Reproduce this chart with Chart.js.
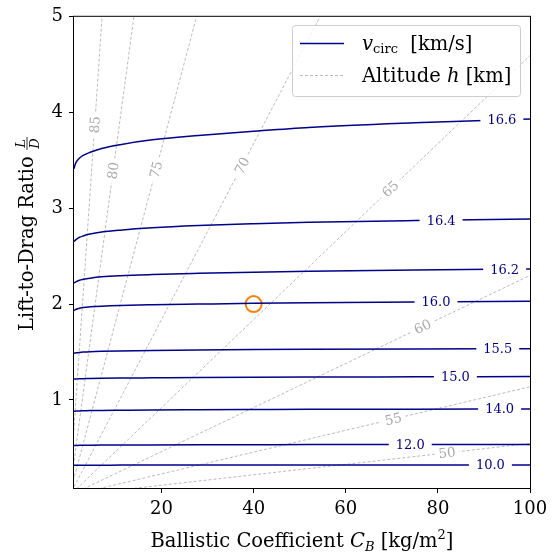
<!DOCTYPE html>
<html>
<head>
<meta charset="utf-8">
<script src="https://cdn.jsdelivr.net/npm/chart.js@4.4.0/dist/chart.umd.min.js"></script>
<style>
  body { margin: 0; background: #fff; }
  #chart { display: block; }
</style>
</head>
<body>
<canvas id="chart" width="559" height="556"></canvas>
<script>
// ballistic coefficient grid shared by every v_circ contour [kg/m^2]
var cbGrid = [1, 1.2, 1.5, 2.2, 3, 4.5, 7, 11, 18, 28, 40, 52, 75, 100];

// v_circ contour levels [km/s] and the L/D read along each one
var vLevels = ['16.6', '16.4', '16.2', '16.0', '15.5', '15.0', '14.0', '12.0', '10.0'];
var ld166 = [3.414, 3.45, 3.485, 3.525, 3.553, 3.585, 3.625, 3.665, 3.715, 3.76, 3.805, 3.845, 3.893, 3.933];
var ld164 = [2.653, 2.663, 2.676, 2.698, 2.712, 2.731, 2.752, 2.772, 2.797, 2.82, 2.839, 2.854, 2.873, 2.889];
var ld162 = [2.22, 2.227, 2.235, 2.25, 2.259, 2.271, 2.285, 2.297, 2.309, 2.321, 2.333, 2.343, 2.356, 2.366];
var ld160 = [1.933, 1.939, 1.946, 1.957, 1.965, 1.972, 1.979, 1.986, 1.993, 2.0, 2.008, 2.014, 2.023, 2.03];
var ld155 = [1.487, 1.489, 1.492, 1.496, 1.499, 1.503, 1.507, 1.511, 1.516, 1.521, 1.525, 1.528, 1.532, 1.535];
var ld150 = [1.217, 1.218, 1.219, 1.221, 1.222, 1.224, 1.226, 1.228, 1.230, 1.233, 1.236, 1.238, 1.241, 1.244];
var ld140 = [0.881, 0.882, 0.883, 0.885, 0.886, 0.888, 0.89, 0.892, 0.895, 0.897, 0.899, 0.901, 0.903, 0.905];
var ld120 = [0.524, 0.524, 0.525, 0.526, 0.526, 0.527, 0.528, 0.529, 0.53, 0.531, 0.532, 0.533, 0.534, 0.535];
var ld100 = [0.317, 0.317, 0.317, 0.317, 0.318, 0.318, 0.318, 0.319, 0.319, 0.319, 0.32, 0.32, 0.32, 0.32];
var vCurves = [ld166, ld164, ld162, ld160, ld155, ld150, ld140, ld120, ld100];

// altitude lines [km]: they fan out of the origin, end = where they leave the plot
var altLevels = ['50', '55', '60', '65', '70', '75', '80', '85'];
var altEndCB = [100, 100, 100, 100, 54.4, 27.6, 14.0, 7.1];
var altEndLD = [0.545, 1.137, 2.30, 4.595, 5, 5, 5, 5];

// design point
var designCB = [40];
var designLD = [2.0];

var xTicks = [20, 40, 60, 80, 100];
var yTicks = [1, 2, 3, 4, 5];

// where the inline labels sit along their lines (CB value)
var vLabelCB = [93.9, 80.7, 94.5, 79.6, 93, 83.8, 93.4, 74, 91.4];
var altLabelCB = [82, 70.3, 76.7, 69.7, 37.5, 18.8, 9.5, 5.5];

var NAVY = '#00008b';
var GREY = '#a9a9a9';
var SERIF = '"DejaVu Serif", serif';

function interp(xs, ys, x) {
    for (var i = 1; i < xs.length; i++) {
        if (x <= xs[i]) {
            var t = (x - xs[i - 1]) / (xs[i] - xs[i - 1]);
            return ys[i - 1] + t * (ys[i] - ys[i - 1]);
        }
    }
    return ys[ys.length - 1];
}

// text runs with mixed fonts (italic / sub / superscript), left to right
function drawRuns(ctx, runs, x, y, align) {
    var total = 0;
    runs.forEach(function(r) { ctx.font = r.font; r.w = ctx.measureText(r.text).width; total += r.w; });
    var cx = align === 'center' ? x - total / 2 : x;
    ctx.textAlign = 'left';
    ctx.textBaseline = 'alphabetic';
    runs.forEach(function(r) {
        ctx.font = r.font;
        ctx.fillText(r.text, cx, y + (r.dy || 0));
        cx += r.w;
    });
    return total;
}

var datasets = [];
vCurves.forEach(function(ld, i) {
    datasets.push({
        label: 'v ' + vLevels[i],
        data: cbGrid.map(function(cb, j) { return { x: cb, y: ld[j] }; }),
        showLine: true,
        borderColor: NAVY,
        borderWidth: 1.5,
        pointRadius: 0,
        cubicInterpolationMode: 'monotone',
        clip: 0
    });
});
altLevels.forEach(function(h, i) {
    datasets.push({
        label: 'h ' + h,
        data: [{ x: 0, y: 0 }, { x: altEndCB[i], y: altEndLD[i] }],
        showLine: true,
        borderColor: GREY,
        borderWidth: 0.8,
        borderDash: [3, 2],
        pointRadius: 0,
        clip: 0
    });
});
datasets.push({
    label: 'design',
    data: designCB.map(function(cb, j) { return { x: cb, y: designLD[j] }; }),
    showLine: false,
    pointRadius: 8,
    pointBorderWidth: 2,
    pointBorderColor: '#ff7f0e',
    pointBackgroundColor: 'rgba(0,0,0,0)'
});

var decor = {
    id: 'decor',
    afterDatasetsDraw: function(chart) {
        var ctx = chart.ctx, xs = chart.scales.x, ys = chart.scales.y;
        ctx.save();

        // contour labels, cut into their line
        ctx.font = '13px ' + SERIF;
        ctx.textAlign = 'center';
        ctx.textBaseline = 'middle';
        vLevels.forEach(function(lbl, i) {
            var cb = vLabelCB[i];
            var px = xs.getPixelForValue(cb);
            var py = ys.getPixelForValue(interp(cbGrid, vCurves[i], cb));
            var w = ctx.measureText(lbl).width;
            ctx.fillStyle = '#fff';
            ctx.fillRect(px - w / 2 - 7, py - 3, w + 14, 6);
            ctx.fillStyle = NAVY;
            ctx.fillText(lbl, px, py + 1);
        });

        // altitude labels, rotated along the dashed lines
        ctx.font = '13.5px ' + SERIF;
        altLevels.forEach(function(lbl, i) {
            var x0 = xs.getPixelForValue(0), y0 = ys.getPixelForValue(0);
            var x1 = xs.getPixelForValue(altEndCB[i]), y1 = ys.getPixelForValue(altEndLD[i]);
            var t = altLabelCB[i] / altEndCB[i];
            var px = x0 + (x1 - x0) * t, py = y0 + (y1 - y0) * t;
            var ang = Math.atan2(y1 - y0, x1 - x0);
            var w = ctx.measureText(lbl).width;
            ctx.save();
            ctx.translate(px, py);
            ctx.rotate(ang);
            ctx.fillStyle = '#fff';
            ctx.fillRect(-w / 2 - 4, -2.5, w + 8, 5);
            ctx.fillStyle = GREY;
            ctx.fillText(lbl, 0, 1);
            ctx.restore();
        });
        ctx.restore();
    },
    afterDraw: function(chart) {
        var ctx = chart.ctx, a = chart.chartArea;
        ctx.save();

        // frame
        ctx.strokeStyle = '#000';
        ctx.lineWidth = 1;
        ctx.strokeRect(a.left - 0.5, a.top - 0.5, a.right - a.left + 1, a.bottom - a.top + 1);

        // legend
        var lx = 292.5, ly = 25.5, lw = 228, lh = 71;
        ctx.beginPath();
        ctx.roundRect(lx, ly, lw, lh, 3);
        ctx.fillStyle = 'rgba(255,255,255,0.8)';
        ctx.fill();
        ctx.strokeStyle = '#cccccc';
        ctx.stroke();

        ctx.lineWidth = 1.5;
        ctx.strokeStyle = NAVY;
        ctx.beginPath(); ctx.moveTo(300, 43.5); ctx.lineTo(344, 43.5); ctx.stroke();
        ctx.lineWidth = 0.8;
        ctx.strokeStyle = GREY;
        ctx.setLineDash([3, 2]);
        ctx.beginPath(); ctx.moveTo(300, 75.5); ctx.lineTo(344, 75.5); ctx.stroke();
        ctx.setLineDash([]);

        ctx.fillStyle = '#000';
        drawRuns(ctx, [
            { text: 'v', font: 'italic 19.5px ' + SERIF },
            { text: 'circ', font: '13px ' + SERIF, dy: 3 },
            { text: '  [km/s]', font: '19.5px ' + SERIF }
        ], 362, 50, 'left');
        drawRuns(ctx, [
            { text: 'Altitude ', font: '19.5px ' + SERIF },
            { text: 'h', font: 'italic 19.5px ' + SERIF },
            { text: ' [km]', font: '19.5px ' + SERIF }
        ], 362, 82, 'left');

        // x axis title
        drawRuns(ctx, [
            { text: 'Ballistic Coefficient ', font: '19.5px ' + SERIF },
            { text: 'C', font: 'italic 19.5px ' + SERIF },
            { text: 'B', font: 'italic 13px ' + SERIF, dy: 4 },
            { text: ' [kg/m', font: '19.5px ' + SERIF },
            { text: '2', font: '13px ' + SERIF, dy: -8 },
            { text: ']', font: '19.5px ' + SERIF }
        ], (a.left + a.right) / 2, 547, 'center');

        // y axis title with the L/D fraction
        ctx.save();
        ctx.translate(33, 234);
        ctx.rotate(-Math.PI / 2);
        ctx.font = '19.5px ' + SERIF;
        var txt = 'Lift-to-Drag Ratio ';
        var tw = ctx.measureText(txt).width;
        var fw = 13;
        var sx = -(tw + fw) / 2;
        ctx.textAlign = 'left';
        ctx.textBaseline = 'alphabetic';
        ctx.fillText(txt, sx, 0);
        var fx = sx + tw + fw / 2;
        ctx.font = 'italic 13px ' + SERIF;
        ctx.textAlign = 'center';
        ctx.fillText('L', fx, -8);
        ctx.fillText('D', fx, 6);
        ctx.lineWidth = 0.8;
        ctx.strokeStyle = '#000';
        ctx.beginPath(); ctx.moveTo(fx - fw / 2, -6); ctx.lineTo(fx + fw / 2, -6); ctx.stroke();
        ctx.restore();

        ctx.restore();
    }
};

var ctx = document.getElementById('chart').getContext('2d');
var chart = new Chart(ctx, {
    type: 'scatter',
    data: { datasets: datasets },
    options: {
        responsive: false,
        animation: false,
        devicePixelRatio: 1,
        layout: { padding: { top: 14, right: 29, left: 0, bottom: 0 } },
        plugins: {
            legend: { display: false },
            tooltip: { enabled: false }
        },
        scales: {
            x: {
                type: 'linear',
                min: 1,
                max: 100,
                afterBuildTicks: function(scale) {
                    scale.ticks = xTicks.map(function(v) { return { value: v }; });
                },
                afterFit: function(scale) { scale.height = 68; },
                ticks: {
                    color: '#000',
                    font: { family: SERIF, size: 18 },
                    padding: 6,
                    maxRotation: 0,
                    callback: function(v) { return String(v); }
                },
                grid: { drawOnChartArea: false, drawTicks: true, tickLength: 5, color: '#000' },
                border: { display: false }
            },
            y: {
                type: 'linear',
                min: 0.08,
                max: 5,
                afterBuildTicks: function(scale) {
                    scale.ticks = yTicks.map(function(v) { return { value: v }; });
                },
                afterFit: function(scale) { scale.width = 74; },
                ticks: {
                    color: '#000',
                    font: { family: SERIF, size: 18 },
                    padding: 6,
                    callback: function(v) { return String(v); }
                },
                grid: { drawOnChartArea: false, drawTicks: true, tickLength: 5, color: '#000' },
                border: { display: false }
            }
        }
    },
    plugins: [decor]
});
</script>
</body>
</html>
